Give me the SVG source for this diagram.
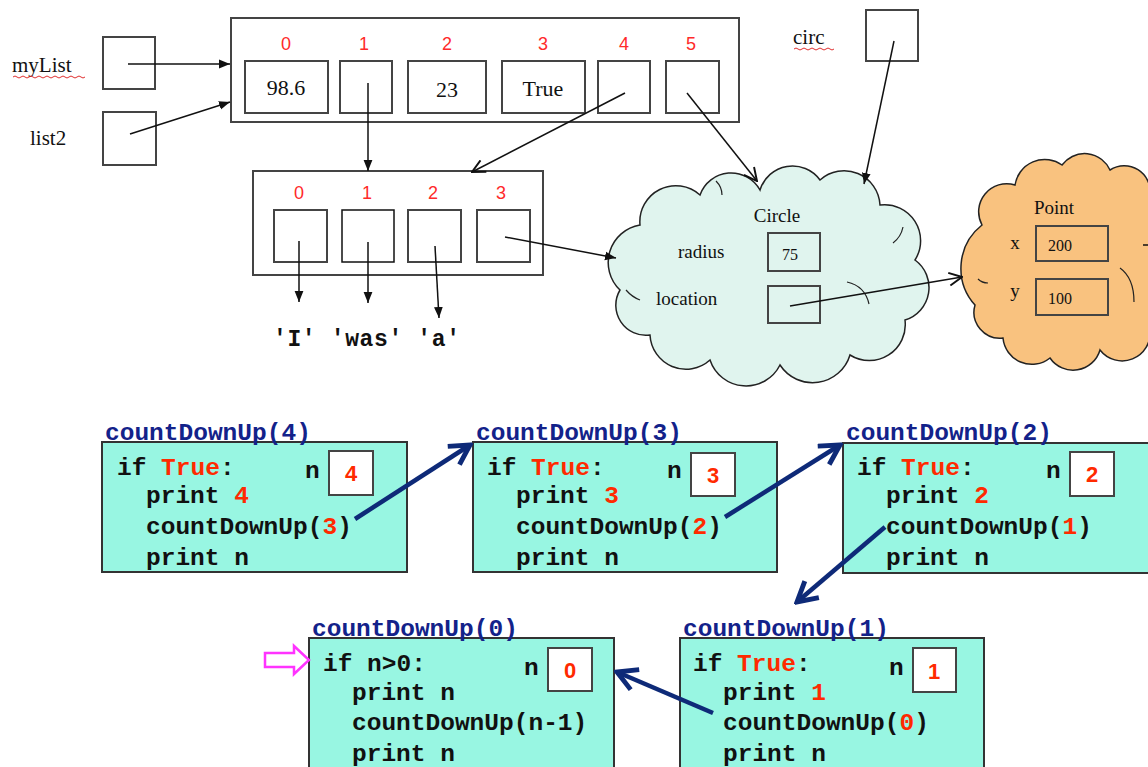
<svg xmlns="http://www.w3.org/2000/svg" width="1148" height="767" viewBox="0 0 1148 767">
<style>
.bx{fill:none;stroke:#444;stroke-width:2}
.bxw{fill:#fff;stroke:#444;stroke-width:2}
.ser{font-family:"Liberation Serif","Times New Roman",serif;fill:#111}
.idx{font-family:"Liberation Sans",Arial,sans-serif;font-size:18px;fill:#ff2a2a;text-anchor:middle}
.ln{stroke:#111;stroke-width:1.5;fill:none}
.nv{stroke:#0e2a78;stroke-width:4.5;fill:none}
.frame{fill:#98f6e2;stroke:#333;stroke-width:2}
.code{font-family:"Liberation Mono","Courier New",monospace;font-size:24.5px;font-weight:bold;fill:#111}
.ttl{font-family:"Liberation Mono","Courier New",monospace;font-size:24.5px;font-weight:bold;fill:#13228a}
.r{fill:#ff2a00}
.val{font-family:"Liberation Sans",Arial,sans-serif;font-size:22px;font-weight:bold;fill:#ff2a00;text-anchor:middle}
.str{font-family:"Liberation Mono","Courier New",monospace;font-size:23px;font-weight:bold;fill:#111}
.wavy{fill:none;stroke:#e03030;stroke-width:1}
</style>
<defs>
<marker id="tri" viewBox="0 0 10 10" refX="10" refY="5" markerWidth="11" markerHeight="11" markerUnits="userSpaceOnUse" orient="auto"><path d="M0,1 L10,5 L0,9z" fill="#111"/></marker>
<marker id="chev" viewBox="0 0 14 14" refX="13" refY="7" markerWidth="15" markerHeight="15" markerUnits="userSpaceOnUse" orient="auto"><path d="M1,1 L13,7 L1,13" fill="none" stroke="#111" stroke-width="1.8"/></marker>
<marker id="nav" viewBox="0 0 24 24" refX="21" refY="12" markerWidth="26" markerHeight="26" markerUnits="userSpaceOnUse" orient="auto"><path d="M3,2 L21,12 L3,22" fill="none" stroke="#0e2a78" stroke-width="4.5"/></marker>
</defs>
<rect width="1148" height="767" fill="#fff"/>

<g id="var-myList">
<text class="ser" x="12" y="72" font-size="21">myList</text>
<path class="wavy" d="M13,77 q2,-2 4,0 t4,0 t4,0 t4,0 t4,0 t4,0 t4,0 t4,0 t4,0 t4,0 t4,0 t4,0 t4,0 t4,0 t4,0 t4,0 t4,0 t4,0"/>
<rect class="bx" x="103" y="37" width="52" height="52"/>
</g>
<g id="var-list2">
<text class="ser" x="30" y="145" font-size="21">list2</text>
<rect class="bx" x="103" y="112" width="53" height="53"/>
</g>
<g id="var-circ">
<text class="ser" x="793" y="44" font-size="21">circ</text>
<path class="wavy" d="M794,49 q2,-2 4,0 t4,0 t4,0 t4,0 t4,0 t4,0 t4,0 t4,0 t4,0 t4,0"/>
<rect class="bx" x="866" y="10" width="52" height="51"/>
</g>

<g id="list-main">
<rect class="bx" x="231" y="18" width="508" height="104"/>
<text class="idx" x="286" y="50">0</text>
<text class="idx" x="364" y="50">1</text>
<text class="idx" x="447" y="50">2</text>
<text class="idx" x="543" y="50">3</text>
<text class="idx" x="624" y="50">4</text>
<text class="idx" x="691" y="50">5</text>
<rect class="bx" x="245" y="61" width="83" height="52"/>
<text class="ser" x="286" y="95" font-size="22" text-anchor="middle">98.6</text>
<rect class="bx" x="340" y="61" width="52" height="52"/>
<rect class="bx" x="408" y="61" width="78" height="52"/>
<text class="ser" x="447" y="97" font-size="22" text-anchor="middle">23</text>
<rect class="bx" x="502" y="61" width="83" height="52"/>
<text class="ser" x="543" y="96" font-size="22" text-anchor="middle">True</text>
<rect class="bx" x="598" y="61" width="52" height="52"/>
<rect class="bx" x="666" y="61" width="53" height="52"/>
</g>

<g id="list-words">
<rect class="bx" x="253" y="171" width="290" height="104"/>
<text class="idx" x="299" y="199">0</text>
<text class="idx" x="367" y="199">1</text>
<text class="idx" x="433" y="199">2</text>
<text class="idx" x="501" y="199">3</text>
<rect class="bx" x="274" y="210" width="53" height="52"/>
<rect x="342" y="210" width="52" height="52" fill="none" stroke="#111" stroke-width="1.5"/>
<rect class="bx" x="408" y="210" width="53" height="52"/>
<rect class="bx" x="477" y="210" width="53" height="52"/>
</g>

<g id="strings">
<text class="str" x="273" y="346" textLength="187" lengthAdjust="spacing">'I' 'was' 'a'</text>
</g>

<g id="obj-circle">
<path d="M620,290 A38,38 0 0 1 640,225 A36,36 0 0 1 700,195 A33,33 0 0 1 760,190 A34,34 0 0 1 820,180 A36,36 0 0 1 880,205 A36,36 0 0 1 915,260 A34,34 0 0 1 905,320 A36,36 0 0 1 850,355 A39,39 0 0 1 780,365 A38,38 0 0 1 710,360 A36,36 0 0 1 650,335 A30,30 0 0 1 620,290 Z" fill="#e0f4ee" stroke="#222" stroke-width="1.5"/>
<path d="M847,282 q18,4 22,22 M893,243 q8,-6 10,-16 M640,300 q-8,-3 -14,-10 M716,181 q6,6 6,14" fill="none" stroke="#222" stroke-width="1.2"/>
<text class="ser" x="777" y="222" font-size="19" text-anchor="middle">Circle</text>
<text class="ser" x="678" y="258" font-size="19">radius</text>
<rect class="bx" x="768" y="233" width="52" height="38"/>
<text class="ser" x="790" y="260" font-size="16" text-anchor="middle">75</text>
<text class="ser" x="656" y="305" font-size="19">location</text>
<rect class="bx" x="768" y="286" width="52" height="37"/>
</g>

<g id="obj-point">
<path d="M975,305 A55,55 0 0 1 982,225 A28,28 0 0 1 1015,185 A30,30 0 0 1 1062,165 A28,28 0 0 1 1110,170 A26,26 0 0 1 1150,195 A36,36 0 0 1 1165,260 A38,38 0 0 1 1150,330 A28,28 0 0 1 1100,350 A28,28 0 0 1 1050,358 A29,29 0 0 1 1003,338 A26,26 0 0 1 975,305 Z" fill="#f9c27f" stroke="#222" stroke-width="1.5"/>
<path d="M1120,268 q14,10 14,34 M988,283 q-6,0 -10,-4" fill="none" stroke="#222" stroke-width="1.2"/>
<text class="ser" x="1054" y="214" font-size="19" text-anchor="middle">Point</text>
<text class="ser" x="1015" y="249" font-size="19" text-anchor="middle">x</text>
<rect class="bx" x="1036" y="226" width="72" height="35"/>
<text class="ser" x="1048" y="251" font-size="16">200</text>
<text class="ser" x="1015" y="297" font-size="19" text-anchor="middle">y</text>
<rect class="bx" x="1036" y="279" width="72" height="36"/>
<text class="ser" x="1048" y="304" font-size="16">100</text>
</g>

<g id="frame-4">
<rect class="frame" x="102" y="442" width="305" height="130"/>
<text class="ttl" x="105" y="440">countDownUp(4)</text>
<text class="code" x="117" y="475">if <tspan class="r">True</tspan>:</text>
<text class="code" x="146" y="503">print <tspan class="r">4</tspan></text>
<text class="code" x="146" y="534">countDownUp(<tspan class="r">3</tspan>)</text>
<text class="code" x="146" y="565">print n</text>
<text class="code" x="305" y="478">n</text>
<rect class="bxw" x="329" y="451" width="44" height="44"/>
<text class="val" x="351" y="481">4</text>
</g>
<g id="frame-3">
<rect class="frame" x="473" y="442" width="304" height="130"/>
<text class="ttl" x="476" y="440">countDownUp(3)</text>
<text class="code" x="487" y="475">if <tspan class="r">True</tspan>:</text>
<text class="code" x="516" y="503">print <tspan class="r">3</tspan></text>
<text class="code" x="516" y="534">countDownUp(<tspan class="r">2</tspan>)</text>
<text class="code" x="516" y="565">print n</text>
<text class="code" x="667" y="478">n</text>
<rect class="bxw" x="691" y="453" width="44" height="43"/>
<text class="val" x="713" y="483">3</text>
</g>
<g id="frame-2">
<rect class="frame" x="843" y="443" width="310" height="130"/>
<text class="ttl" x="846" y="440">countDownUp(2)</text>
<text class="code" x="857" y="475">if <tspan class="r">True</tspan>:</text>
<text class="code" x="886" y="503">print <tspan class="r">2</tspan></text>
<text class="code" x="886" y="534">countDownUp(<tspan class="r">1</tspan>)</text>
<text class="code" x="886" y="565">print n</text>
<text class="code" x="1046" y="478">n</text>
<rect class="bxw" x="1070" y="452" width="44" height="44"/>
<text class="val" x="1092" y="482">2</text>
</g>
<g id="frame-0">
<rect class="frame" x="309" y="638" width="305" height="140"/>
<text class="ttl" x="312" y="636">countDownUp(0)</text>
<text class="code" x="323" y="671">if n&gt;0:</text>
<text class="code" x="352" y="700">print n</text>
<text class="code" x="352" y="730">countDownUp(n-1)</text>
<text class="code" x="352" y="761">print n</text>
<text class="code" x="524" y="675">n</text>
<rect class="bxw" x="548" y="648" width="44" height="43"/>
<text class="val" x="570" y="678">0</text>
</g>
<g id="frame-1">
<rect class="frame" x="680" y="638" width="304" height="140"/>
<text class="ttl" x="683" y="636">countDownUp(1)</text>
<text class="code" x="693" y="671">if <tspan class="r">True</tspan>:</text>
<text class="code" x="723" y="700">print <tspan class="r">1</tspan></text>
<text class="code" x="723" y="730">countDownUp(<tspan class="r">0</tspan>)</text>
<text class="code" x="723" y="761">print n</text>
<text class="code" x="889" y="675">n</text>
<rect class="bxw" x="913" y="648" width="43" height="44"/>
<text class="val" x="934" y="679">1</text>
</g>

<g id="pc-arrow">
<polygon points="265,653 294,653 294,646 309,660 294,674 294,667 265,667" fill="#fff" stroke="#ff33ff" stroke-width="2.5"/>
</g>

<g id="connectors">
<line class="ln" x1="128" y1="64" x2="230" y2="64" marker-end="url(#tri)"/>
<line class="ln" x1="130" y1="134" x2="230" y2="102" marker-end="url(#tri)"/>
<line class="ln" x1="368" y1="83" x2="368" y2="171" marker-end="url(#tri)"/>
<line class="ln" x1="625" y1="93" x2="472" y2="172" marker-end="url(#chev)"/>
<line class="ln" x1="687" y1="93" x2="757" y2="181" marker-end="url(#chev)"/>
<line class="ln" x1="894" y1="41" x2="864" y2="184" marker-end="url(#tri)"/>
<line class="ln" x1="299" y1="241" x2="299" y2="302" marker-end="url(#tri)"/>
<line class="ln" x1="368" y1="242" x2="368" y2="303" marker-end="url(#tri)"/>
<line class="ln" x1="435" y1="246" x2="439" y2="318" marker-end="url(#tri)"/>
<line class="ln" x1="505" y1="237" x2="616" y2="258" marker-end="url(#tri)"/>
<line class="ln" x1="790" y1="306" x2="962" y2="277" marker-end="url(#chev)"/>
<line class="ln" x1="1143" y1="245" x2="1148" y2="245"/>
<line class="nv" x1="355" y1="519" x2="470" y2="445" marker-end="url(#nav)"/>
<line class="nv" x1="725" y1="517" x2="840" y2="445" marker-end="url(#nav)"/>
<line class="nv" x1="885" y1="527" x2="797" y2="602" marker-end="url(#nav)"/>
<line class="nv" x1="713" y1="713" x2="617" y2="672" marker-end="url(#nav)"/>
</g>
</svg>
